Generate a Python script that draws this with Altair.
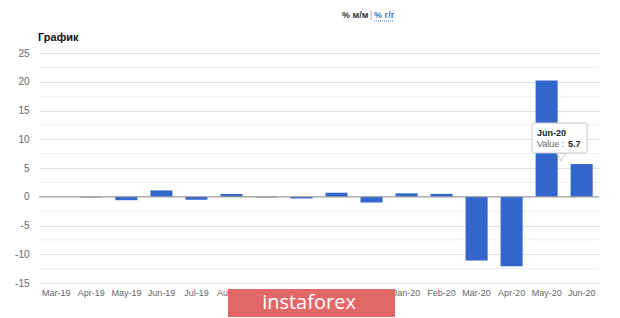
import altair as alt
import pandas as pd

months = ["Mar-19", "Apr-19", "May-19", "Jun-19", "Jul-19", "Aug-19", "Sep-19", "Oct-19",
          "Nov-19", "Dec-19", "Jan-20", "Feb-20", "Mar-20", "Apr-20", "May-20", "Jun-20"]
values = [0.0, -0.1, -0.6, 1.1, -0.5, 0.5, -0.1, -0.3,
          0.7, -1.0, 0.6, 0.5, -11.1, -12.1, 20.2, 5.7]
major_ticks = [-15, -10, -5, 0, 5, 10, 15, 20, 25]
minor_ticks = [-12.5, -7.5, -2.5, 2.5, 7.5, 12.5, 17.5, 22.5]

df = pd.DataFrame({"month": months, "value": values})
FONT = "Liberation Sans"

yaxis = alt.Axis(values=major_ticks, labelFontSize=10, labelColor="#666", labelFont=FONT,
                 labelExpr="'' + datum.value", labelOverlap=False,
                 ticks=False, domain=False, labelPadding=10,
                 gridColor="#e0e0e0", gridWidth=1)

def yenc():
    return alt.Y("value:Q", title=None,
                 scale=alt.Scale(domain=[-15, 25], nice=False, zero=False), axis=yaxis)

minor = alt.Chart(pd.DataFrame({"value": minor_ticks})).mark_rule(
    color="#f0f0f0", strokeWidth=1).encode(y=yenc())

bars = alt.Chart(df).mark_bar(color="#3366CC").encode(
    x=alt.X("month:N", sort=months, title=None,
            scale=alt.Scale(paddingInner=0.37, paddingOuter=0.18),
            axis=alt.Axis(labelAngle=0, labelFontSize=9, labelColor="#666", labelFont=FONT,
                          ticks=False, domain=False, grid=False, labelPadding=5)),
    y=yenc(),
)

zero = alt.Chart(pd.DataFrame({"value": [0]})).mark_rule(
    color="#999", strokeWidth=1).encode(y=yenc())

one = pd.DataFrame({"a": [0]})

def txt(text, x, y, size=10, color="#222", weight="normal", align="left", font=FONT):
    return alt.Chart(one).mark_text(text=text, fontSize=size, color=color, fontWeight=weight,
                                    align=align, baseline="middle", font=font).encode(
        x=alt.value(x), y=alt.value(y))

title = txt("График", -1, -15, size=11, color="#111", weight="bold")
top1 = txt("% м/м", 303, -38, size=9, color="#333", weight="bold")
sep = txt("|", 331, -38, size=9, color="#999")
top2 = txt("% г/г", 335, -38, size=9, color="#3a78c8", weight="bold")
dots = alt.Chart(one).mark_rule(color="#3a78c8", strokeDash=[1, 1]).encode(
    x=alt.value(335), x2=alt.value(355), y=alt.value(-32))

tip_ptr = alt.Chart(one).mark_point(shape="triangle-down", filled=True, fill="white",
                                    stroke="#cccccc", strokeWidth=1, size=80, opacity=1).encode(
    x=alt.value(522), y=alt.value(104))
tip_box = alt.Chart(one).mark_rect(fill="white", stroke="#cccccc", strokeWidth=1, cornerRadius=2).encode(
    x=alt.value(493), x2=alt.value(548), y=alt.value(70), y2=alt.value(100))
tip1 = txt("Jun-20", 498, 80, size=9, color="#222", weight="bold")
tip2 = txt("Value :", 498, 91, size=9, color="#666")
tip3 = txt("5.7", 529, 91, size=9, color="#222", weight="bold")

wm_box = alt.Chart(one).mark_rect(fill="#E26868").encode(
    x=alt.value(189), x2=alt.value(356), y=alt.value(236), y2=alt.value(264))
wm_txt = txt("instaforex", 270, 250, size=20, color="white", align="center", font="Open Sans")

chart = alt.layer(minor, bars, zero, title, top1, sep, top2, dots, tip_ptr, tip_box, tip1, tip2, tip3,
                  wm_box, wm_txt).properties(
    width=560, height=230,
    autosize=alt.AutoSizeParams(type="none"),
    padding={"left": 39, "top": 53, "right": 21, "bottom": 35},
    background="white",
).configure_view(stroke=None)

chart.save("out.html", embed_options={"renderer": "svg", "actions": False})
